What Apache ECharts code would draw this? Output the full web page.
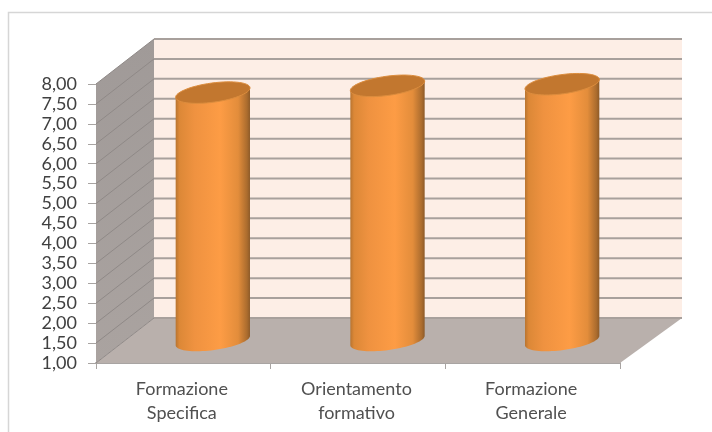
<!DOCTYPE html>
<html><head><meta charset="utf-8">
<style>html,body{margin:0;padding:0;background:#fff;overflow:hidden}#c{width:712px;height:432px;filter:blur(0.6px)}</style>
<script src="https://cdn.jsdelivr.net/npm/echarts@6/dist/echarts.min.js"></script>
</head><body><div id="c"></div>
<script>
const categories = ['Formazione\nSpecifica', 'Orientamento\nformativo', 'Formazione\nGenerale'];
const values = [7.22, 7.39, 7.43];
const tickValues = [1, 1.5, 2, 2.5, 3, 3.5, 4, 4.5, 5, 5.5, 6, 6.5, 7, 7.5, 8];
const axisMin = 1, axisMax = 8, axisStep = 0.5;

const DX = 58, DY = -45, RIGHT_EXTRA = 4;   // 3D depth of the box
const TILT = 7.7 * Math.PI / 180, RX = 37.5, RY = 9.6;

function ellipsePt(cx, cy, t) {
  const x = RX * Math.cos(t), y = RY * Math.sin(t);
  return [cx + x * Math.cos(TILT) + y * Math.sin(TILT), cy - x * Math.sin(TILT) + y * Math.cos(TILT)];
}
function arc(cx, cy, from, to, n) {
  const out = [];
  for (let i = 0; i <= n; i++) out.push(ellipsePt(cx, cy, from + (to - from) * i / n));
  return out;
}
function renderBox(params, api) {
  const g = params.coordSys;
  const x0 = g.x, x1 = g.x + g.width;
  const yBottom = api.coord([0, axisMin])[1], yTop = api.coord([0, axisMax])[1];
  const children = [
    { type: 'polygon', shape: { points: [[x0 + DX, yTop + DY], [x1 + DX + RIGHT_EXTRA, yTop + DY], [x1 + DX + RIGHT_EXTRA, yBottom + DY], [x0 + DX, yBottom + DY]] }, style: { fill: '#fdeee6' } },
    { type: 'polygon', shape: { points: [[x0, yTop], [x0 + DX, yTop + DY], [x0 + DX, yBottom + DY], [x0, yBottom]] },
      style: { fill: { type: 'linear', x: 0, y: 0, x2: 0, y2: 1, colorStops: [{ offset: 0, color: '#a09a98' }, { offset: 1, color: '#aaa3a0' }] } } },
    { type: 'polygon', shape: { points: [[x0, yBottom], [x0 + DX, yBottom + DY], [x1 + DX + RIGHT_EXTRA, yBottom + DY], [x1, yBottom]] }, style: { fill: '#b9b0ac' } }
  ];
  tickValues.forEach(v => {
    const y = api.coord([0, v])[1];
    children.push({ type: 'polyline', shape: { points: [[x0, y], [x0 + DX, y + DY]] }, style: { fill: 'none', stroke: '#8f8987', lineWidth: 1 } });
    children.push({ type: 'polyline', shape: { points: [[x0 + DX, y + DY], [x1 + DX + RIGHT_EXTRA, y + DY]] }, style: { fill: 'none', stroke: '#a8a09c', lineWidth: 2 } });
  });
  return { type: 'group', children };
}
function renderCylinder(params, api) {
  const top = api.coord([api.value(0), api.value(1)]);
  const base = api.coord([api.value(0), axisMin]);
  const tx = top[0] + DX / 2 + 0.5, ty = top[1] + DY / 2, by = base[1] + DY / 2;
  const body = arc(tx, by, Math.PI, 0, 40);        // lower half of the base, left to right
  const bodyPts = [ellipsePt(tx, ty, Math.PI)].concat(body, [ellipsePt(tx, ty, 0)]);
  const topPts = arc(tx, ty, 0, Math.PI * 2, 60);
  return { type: 'group', children: [
    { type: 'polygon', shape: { points: bodyPts }, style: { fill: { type: 'linear', x: 0, y: 0, x2: 1, y2: 0, colorStops: [
      { offset: 0, color: '#b87430' }, { offset: 0.05, color: '#dc8837' }, { offset: 0.25, color: '#ef9240' },
      { offset: 0.6, color: '#fd9c45' }, { offset: 0.84, color: '#e38d3b' }, { offset: 0.96, color: '#ab6c2e' }, { offset: 1, color: '#8d5a28' }] } } },
    { type: 'polygon', shape: { points: topPts }, style: { fill: '#c2772f', stroke: '#dc8d3e', lineWidth: 1 } }
  ] };
}

const chart = echarts.init(document.getElementById('c'), null, { renderer: 'canvas' });
chart.setOption({
  animation: false,
  backgroundColor: '#fff',
  graphic: [{ type: 'polyline', silent: true, z: 0, shape: { points: [[8.5, 432], [8.5, 12.5], [712, 12.5]] }, style: { fill: 'none', stroke: '#d6d6d6', lineWidth: 1.5 } }],
  grid: { left: 96, right: 92, top: 84, bottom: 69 },
  xAxis: { type: 'category', data: categories,
    axisLine: { show: true, lineStyle: { color: '#a8a4a2', width: 2 } },
    axisTick: { show: true, alignWithLabel: false, length: 6, lineStyle: { color: '#a8a4a2', width: 1 } },
    axisLabel: { fontFamily: 'Lato', fontSize: 18, color: '#505050', lineHeight: 24, margin: 14, interval: 0, padding: [0, 3, 0, 0] } },
  yAxis: { type: 'value', min: axisMin, max: axisMax, interval: axisStep,
    splitLine: { show: false },
    axisLine: { show: true, lineStyle: { color: '#a8a4a2', width: 1 } },
    axisTick: { show: true, length: 8, lineStyle: { color: '#a8a4a2', width: 1 } },
    axisLabel: { fontFamily: 'Lato', fontSize: 18, color: '#404040', margin: 19, formatter: v => v.toFixed(2).replace('.', ',') } },
  series: [
    { type: 'custom', coordinateSystem: 'cartesian2d', renderItem: renderBox, data: [[0, axisMax]], clip: false, silent: true, z: 1 },
    { type: 'custom', coordinateSystem: 'cartesian2d', renderItem: renderCylinder, data: values.map((v, i) => [i, v]), encode: { x: 0, y: 1 }, clip: false, silent: true, z: 2 }
  ]
});
</script></body></html>
